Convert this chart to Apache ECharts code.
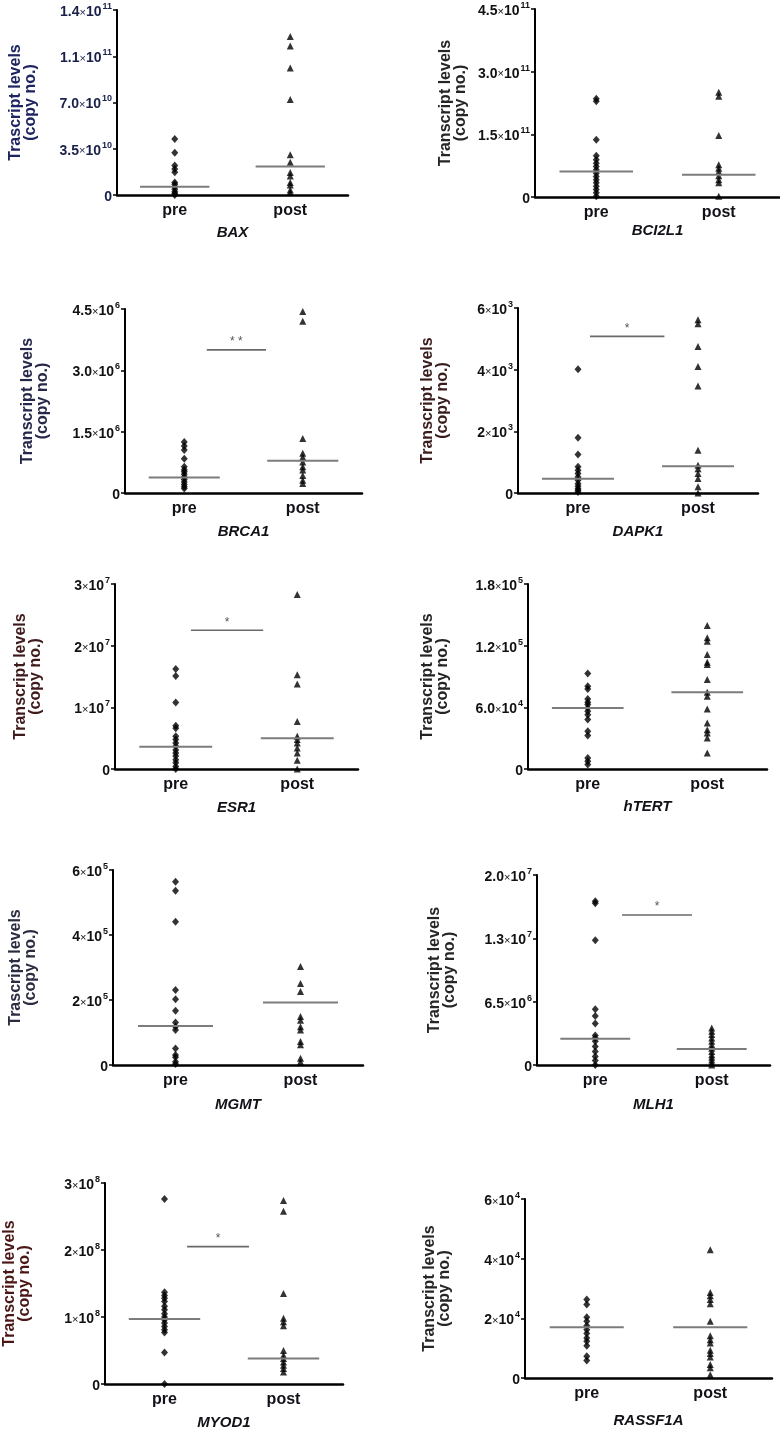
<!DOCTYPE html>
<html>
<head>
<meta charset="utf-8">
<script src="https://cdn.jsdelivr.net/npm/echarts@6/dist/echarts.min.js"></script>
<style>
html,body{margin:0;padding:0;background:#fff;}
#chart{width:780px;height:1440px;}
</style>
</head>
<body>
<div id="chart"></div>
<script>
// ---------- DATA ----------
const categories = ['pre', 'post'];
const genes = ['BAX', 'BCI2L1', 'BRCA1', 'DAPK1', 'ESR1', 'hTERT', 'MGMT', 'MLH1', 'MYOD1', 'RASSF1A'];
const yTitles = ['Trascript levels', 'Transcript levels', 'Transcript levels', 'Transcript levels', 'Transcript levels',
                 'Transcript levels', 'Trascript levels', 'Transcript levels', 'Transcript levels', 'Transcript levels'];

const baxPre = [4.23e10, 3.2e10, 2.23e10, 1.97e10, 1.72e10, 0.94e10, 0.81e10, 0.63e10, 0.43e10, 0.25e10, 0.13e10, 0];
const baxPost = [12.0e10, 11.27e10, 9.62e10, 7.22e10, 3.04e10, 2.48e10, 1.7e10, 1.44e10, 0.94e10, 0.76e10, 0.38e10, 0.18e10];
const baxMedian = [0.63e10, 2.15e10];
const baxTicks = ['0', '3.5×10^10', '7.0×10^10', '1.1×10^11', '1.4×10^11'];

const bcl2l1Pre = [2.35e11, 2.29e11, 1.37e11, 0.99e11, 0.89e11, 0.81e11, 0.73e11, 0.65e11, 0.57e11, 0.49e11, 0.41e11, 0.34e11, 0.26e11, 0.18e11, 0.10e11, 0.02e11];
const bcl2l1Post = [2.51e11, 2.41e11, 1.47e11, 0.77e11, 0.69e11, 0.61e11, 0.51e11, 0.41e11, 0.34e11, 0.02e11];
const bcl2l1Median = [0.61e11, 0.53e11];
const bcl2l1Ticks = ['0', '1.5×10^11', '3.0×10^11', '4.5×10^11'];

const brca1Pre = [1.25e6, 1.15e6, 1.05e6, 0.84e6, 0.64e6, 0.57e6, 0.52e6, 0.46e6, 0.39e6, 0.33e6, 0.27e6, 0.21e6, 0.15e6, 0.11e6];
const brca1Post = [4.44e6, 4.2e6, 1.33e6, 0.97e6, 0.88e6, 0.76e6, 0.64e6, 0.56e6, 0.43e6, 0.31e6, 0.23e6];
const brca1Median = [0.38e6, 0.79e6];
const brca1Ticks = ['0', '1.5×10^6', '3.0×10^6', '4.5×10^6'];
const brca1Sig = 3.5e6;

const dapk1Pre = [4.01e3, 1.79e3, 1.25e3, 0.85e3, 0.74e3, 0.63e3, 0.52e3, 0.41e3, 0.30e3, 0.22e3, 0.14e3, 0.09e3, 0.03e3];
const dapk1Post = [5.62e3, 5.49e3, 4.75e3, 4.10e3, 3.47e3, 1.39e3, 0.90e3, 0.79e3, 0.63e3, 0.47e3, 0.20e3, 0];
const dapk1Median = [0.46e3, 0.87e3];
const dapk1Ticks = ['0', '2×10^3', '4×10^3', '6×10^3'];
const dapk1Sig = 5.08e3;

const esr1Pre = [1.62e7, 1.51e7, 1.08e7, 0.70e7, 0.66e7, 0.53e7, 0.48e7, 0.42e7, 0.37e7, 0.31e7, 0.26e7, 0.21e7, 0.15e7, 0.10e7, 0.04e7, 0];
const esr1Post = [2.83e7, 1.53e7, 1.38e7, 0.77e7, 0.53e7, 0.48e7, 0.42e7, 0.34e7, 0.26e7, 0.14e7, 0];
const esr1Median = [0.36e7, 0.50e7];
const esr1Ticks = ['0', '1×10^7', '2×10^7', '3×10^7'];
const esr1Sig = 2.25e7;

const htertPre = [9.29e4, 8.05e4, 7.79e4, 6.82e4, 6.49e4, 6.27e4, 5.94e4, 5.62e4, 5.29e4, 4.81e4, 3.67e4, 3.25e4, 1.07e4, 0.75e4, 0.45e4];
const htertPost = [13.96e4, 12.76e4, 12.44e4, 11.14e4, 10.39e4, 10.16e4, 8.70e4, 7.47e4, 7.08e4, 5.84e4, 4.48e4, 3.83e4, 3.51e4, 3.02e4, 1.56e4];
const htertMedian = [5.94e4, 7.47e4];
const htertTicks = ['0', '6.0×10^4', '1.2×10^5', '1.8×10^5'];

const mgmtPre = [5.64e5, 5.36e5, 4.41e5, 2.31e5, 2.02e5, 1.67e5, 1.31e5, 1.18e5, 1.08e5, 0.51e5, 0.31e5, 0.24e5, 0.10e5, 0.03e5];
const mgmtPost = [3.03e5, 2.51e5, 2.26e5, 1.49e5, 1.38e5, 1.18e5, 1.08e5, 0.72e5, 0.62e5, 0.21e5, 0.10e5];
const mgmtMedian = [1.2e5, 1.92e5];
const mgmtTicks = ['0', '2×10^5', '4×10^5', '6×10^5'];

const mlh1Pre = [16.8e6, 16.6e6, 12.8e6, 5.72e6, 5.03e6, 4.26e6, 3.02e6, 2.77e6, 2.43e6, 1.91e6, 1.39e6, 0.87e6, 0.45e6, 0];
const mlh1Post = [3.81e6, 3.47e6, 3.12e6, 2.77e6, 2.43e6, 2.08e6, 1.73e6, 1.39e6, 1.04e6, 0.80e6, 0.52e6, 0.24e6, 0];
const mlh1Median = [2.7e6, 1.63e6];
const mlh1Ticks = ['0', '6.5×10^6', '1.3×10^7', '2.0×10^7'];
const mlh1Sig = 15.4e6;

const myod1Pre = [2.76e8, 1.37e8, 1.32e8, 1.28e8, 1.23e8, 1.16e8, 1.11e8, 1.05e8, 1.0e8, 0.96e8, 0.91e8, 0.86e8, 0.81e8, 0.77e8, 0.47e8, 0];
const myod1Post = [2.74e8, 2.58e8, 1.35e8, 0.98e8, 0.93e8, 0.87e8, 0.50e8, 0.43e8, 0.38e8, 0.33e8, 0.28e8, 0.23e8, 0.18e8];
const myod1Median = [0.97e8, 0.38e8];
const myod1Ticks = ['0', '1×10^8', '2×10^8', '3×10^8'];
const myod1Sig = 2.05e8;

const rassf1aPre = [2.63e4, 2.46e4, 2.04e4, 1.90e4, 1.75e4, 1.62e4, 1.49e4, 1.34e4, 1.23e4, 1.08e4, 0.73e4, 0.59e4];
const rassf1aPost = [4.30e4, 2.87e4, 2.76e4, 2.63e4, 2.49e4, 1.90e4, 1.42e4, 1.28e4, 1.17e4, 0.93e4, 0.82e4, 0.70e4, 0.45e4, 0.34e4, 0.11e4];
const rassf1aMedian = [1.70e4, 1.70e4];
const rassf1aTicks = ['0', '2×10^4', '4×10^4', '6×10^4'];

const yMax = [1.4e11, 4.5e11, 4.5e6, 6e3, 3e7, 1.8e5, 6e5, 1.95e7, 3e8, 6e4];
const yInterval = [3.5e10, 1.5e11, 1.5e6, 2e3, 1e7, 6e4, 2e5, 6.5e6, 1e8, 2e4];

const preData = [baxPre, bcl2l1Pre, brca1Pre, dapk1Pre, esr1Pre, htertPre, mgmtPre, mlh1Pre, myod1Pre, rassf1aPre];
const postData = [baxPost, bcl2l1Post, brca1Post, dapk1Post, esr1Post, htertPost, mgmtPost, mlh1Post, myod1Post, rassf1aPost];
const medians = [baxMedian, bcl2l1Median, brca1Median, dapk1Median, esr1Median, htertMedian, mgmtMedian, mlh1Median, myod1Median, rassf1aMedian];
const tickLabels = [baxTicks, bcl2l1Ticks, brca1Ticks, dapk1Ticks, esr1Ticks, htertTicks, mgmtTicks, mlh1Ticks, myod1Ticks, rassf1aTicks];
const sigValues = [null, null, brca1Sig, dapk1Sig, esr1Sig, null, null, mlh1Sig, myod1Sig, null];
const sigStars = [null, null, '* *', '*', '*', null, null, '*', '*', null];

// ---------- LAYOUT / STYLE ----------
const grids = [
  {left: 117, top: 10, width: 231, height: 185},
  {left: 535, top: 9, width: 245, height: 188},
  {left: 125, top: 309, width: 237, height: 184},
  {left: 518, top: 308, width: 240, height: 185},
  {left: 115, top: 584, width: 243, height: 185},
  {left: 528, top: 584, width: 239, height: 185},
  {left: 113, top: 870, width: 250, height: 195},
  {left: 537, top: 875, width: 233, height: 190},
  {left: 105, top: 1183, width: 238, height: 201},
  {left: 525, top: 1199, width: 247, height: 179}
];
const titleGaps = [79, 67, 75, 68, 72, 78, 75, 80, 73, 73];
const geneGaps = [30, 26, 31, 31, 31, 30, 32, 32, 31, 35];
const sigSpans = [null, null, [0.19, 0.69], [0.10, 0.72], [0.125, 0.72], null, null, [0.23, 0.83], [0.19, 0.71], null];
const titleColors = ['#1e2460', '#262626', '#26284a', '#3a1c1c', '#3e1a1a', '#242424', '#2a2c40', '#262626', '#4a1616', '#262626'];
const tickColors = ['#18204a', '#111', '#111', '#111', '#111', '#111', '#111', '#111', '#111', '#111'];

const FONT = "'Liberation Sans', Arial, Helvetica, sans-serif";
const INK = '#111118';

function richLabel(s) {
  if (s.indexOf('×') < 0) return '{n|' + s + '}';
  const parts = s.split('×');
  const be = parts[1].split('^');
  return '{n|' + parts[0] + '}{x|×}{n|' + be[0] + '}{s|' + be[1] + '}';
}

const option = {
  animation: false,
  backgroundColor: '#ffffff',
  grid: [], xAxis: [], yAxis: [], series: []
};

genes.forEach(function (gene, i) {
  const g = grids[i];
  const tc = tickColors[i];
  option.grid.push({left: g.left, top: g.top, width: g.width, height: g.height, containLabel: false});
  option.xAxis.push({
    type: 'category', gridIndex: i, data: categories,
    name: gene, nameLocation: 'middle', nameGap: geneGaps[i],
    nameTextStyle: {fontFamily: FONT, fontSize: 15, fontWeight: 'bold', fontStyle: 'italic', color: INK},
    axisLine: {lineStyle: {color: '#000', width: 2.5}},
    axisTick: {show: false},
    axisLabel: {fontFamily: FONT, fontSize: 16, fontWeight: 'bold', color: INK, margin: 8},
    splitLine: {show: false}
  });
  const interval = yInterval[i];
  const ticks = tickLabels[i];
  option.yAxis.push({
    type: 'value', gridIndex: i, min: 0, max: yMax[i], interval: interval,
    name: yTitles[i] + '\n(copy no.)', nameLocation: 'middle', nameRotate: 90, nameGap: titleGaps[i],
    nameTextStyle: {fontFamily: FONT, fontSize: 16, fontWeight: 'bold', color: titleColors[i], lineHeight: 15, align: 'center'},
    axisLine: {show: true, lineStyle: {color: '#000', width: 2}},
    axisTick: {show: true, length: 4, lineStyle: {color: '#000', width: 1.5}},
    splitLine: {show: false},
    axisLabel: {
      margin: 5,
      formatter: function (v) { const k = Math.round(v / interval); return richLabel(ticks[k] || ''); },
      rich: {
        n: {fontFamily: FONT, fontSize: 14, fontWeight: 'bold', color: tc, lineHeight: 18, verticalAlign: 'bottom'},
        x: {fontFamily: FONT, fontSize: 11, color: tc, lineHeight: 18, verticalAlign: 'bottom', padding: [0, 0, 1, 0]},
        s: {fontFamily: FONT, fontSize: 9, fontWeight: 'bold', color: tc, lineHeight: 18, verticalAlign: 'top', padding: [1, 0, 0, 1]}
      }
    }
  });
  option.series.push({
    type: 'scatter', xAxisIndex: i, yAxisIndex: i, symbol: 'diamond', symbolSize: [7, 8],
    itemStyle: {color: '#000'}, data: preData[i].map(function (v) { return ['pre', v]; }), z: 3
  });
  option.series.push({
    type: 'scatter', xAxisIndex: i, yAxisIndex: i, symbol: 'triangle', symbolSize: [7, 7],
    itemStyle: {color: '#000'}, data: postData[i].map(function (v) { return ['post', v]; }), z: 3
  });
  option.series.push({
    type: 'custom', xAxisIndex: i, yAxisIndex: i, z: 4,
    data: medians[i].map(function (v, k) { return [k, v]; }),
    renderItem: function (params, api) {
      const c = api.coord([api.value(0), api.value(1)]);
      const hw = api.size([1, 0])[0] * 0.3;
      return {type: 'line', shape: {x1: c[0] - hw, y1: c[1], x2: c[0] + hw, y2: c[1]},
              style: {stroke: '#7c7c7c', lineWidth: 2}};
    }
  });
  if (sigValues[i] !== null) {
    const span = sigSpans[i];
    const star = sigStars[i];
    option.series.push({
      type: 'custom', xAxisIndex: i, yAxisIndex: i, z: 4,
      data: [[0, sigValues[i]]],
      renderItem: function (params, api) {
        const c = api.coord([api.value(0), api.value(1)]);
        const bw = api.size([1, 0])[0];
        const x1 = c[0] + span[0] * bw, x2 = c[0] + span[1] * bw;
        return {type: 'group', children: [
          {type: 'line', shape: {x1: x1, y1: c[1], x2: x2, y2: c[1]}, style: {stroke: '#6a6a6a', lineWidth: 1.6}},
          {type: 'text', style: {x: (x1 + x2) / 2, y: c[1] - 2, text: star, fill: '#555', font: '12px ' + FONT,
                                 textAlign: 'center', textVerticalAlign: 'bottom'}}
        ]};
      }
    });
  }
});

const chart = echarts.init(document.getElementById('chart'), null, {renderer: 'canvas'});
chart.setOption(option);
</script>
</body>
</html>
